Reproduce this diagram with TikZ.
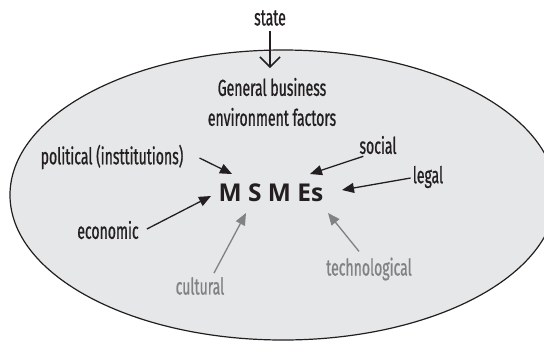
\documentclass[tikz,border=0pt]{standalone}
\usepackage{fontspec}
\setmainfont[FakeStretch=0.61,FakeBold=0.8]{Fira Sans}
\newfontfamily\boldsans{Open Sans}
\usetikzlibrary{arrows.meta}
\definecolor{inkblack}{HTML}{231F20}
\definecolor{inkgray}{HTML}{808285}
\definecolor{envfill}{HTML}{E6E7E8}
\tikzset{
  factor/.style={inner sep=0pt, text=inkblack, font=\fontsize{23}{30}\selectfont},
  softfactor/.style={factor, text=inkgray},
  push/.style={draw=inkblack, line width=1.3pt, -{Triangle[length=12pt,width=10pt]}},
  softpush/.style={push, draw=inkgray, fill=inkgray},
}
\begin{document}
\begin{tikzpicture}[x=1pt,y=-1pt]
  \useasboundingbox (0,0) rectangle (544,341);
  \clip (0,0) rectangle (544,341);
  % business environment
  \draw[fill=envfill, draw=inkblack, line width=1.2pt] (283,195) ellipse [x radius=273, y radius=145];

  \node[factor] (state) at (270,18) {state};
  \coordinate (statetip) at (270,68);
  \draw[draw=inkblack, line width=1.3pt, -{Straight Barb[length=10pt,width=20pt,line width=1.5pt]}] (state.south) ++(0,5) -- (statetip);

  \node[factor, align=center] (general) at (272,102) {General business\\environment factors};

  \node[inner sep=0pt, text=inkblack, font=\boldsans\bfseries\fontsize{24.5}{28}\selectfont] (msme) at (271,193) {M S M Es};

  \node[factor] (political) at (112,157) {political (insttitutions)};
  \node[factor] (social) at (378,145) {social};
  \node[factor] (legal) at (428,177) {legal};
  \node[factor] (economic) at (108,230) {economic};
  \node[softfactor] (cultural) at (200,286) {cultural};
  \node[softfactor] (techno) at (369,269) {technological};

  \coordinate (mPol) at (232,174);
  \coordinate (mSoc) at (310,174);
  \coordinate (mLeg) at (342,190);
  \coordinate (mEco) at (211,196);
  \coordinate (mCul) at (246,213);
  \coordinate (mTec) at (328,213);

  \draw[push] (political.east) ++(16,1) -- (mPol);
  \draw[push] (social.south west) ++(4,2) -- (mSoc);
  \draw[push] (legal.west) ++(-2,1) -- (mLeg);
  \draw[push] (economic.east) ++(8,-1) -- (mEco);
  \draw[softpush] (cultural.north) ++(14,-4) -- (mCul);
  \draw[softpush] (techno.north) ++(-10,-6) -- (mTec);
\end{tikzpicture}
\end{document}
